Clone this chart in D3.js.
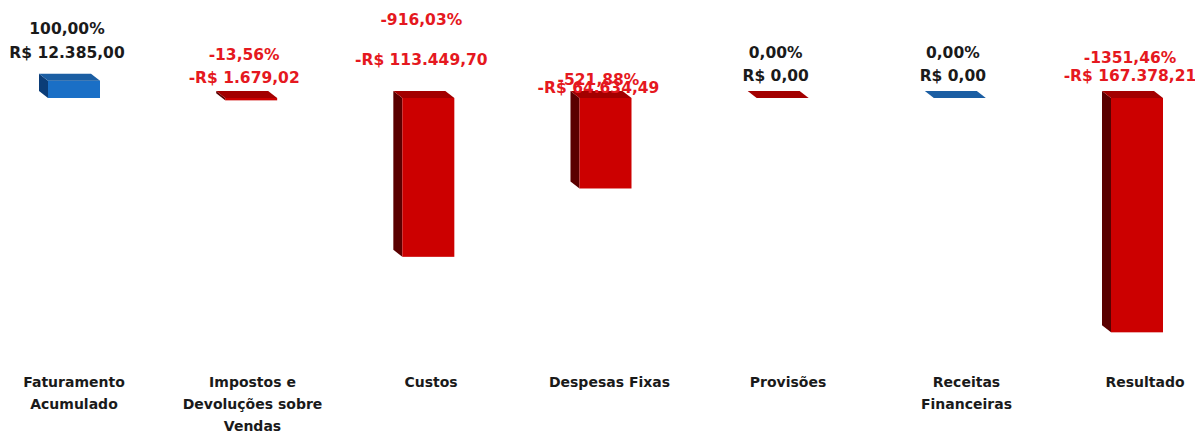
<!DOCTYPE html>
<html><head><meta charset="utf-8">
<script src="https://cdn.jsdelivr.net/npm/d3@7"></script>
<style>html,body{margin:0;padding:0;background:#fff;overflow:hidden}</style>
</head><body>
<svg id="chart" width="1195" height="433"></svg>
<script>
const categories = ["Faturamento Acumulado", "Impostos e Devoluções sobre Vendas", "Custos", "Despesas Fixas", "Provisões", "Receitas Financeiras", "Resultado"];
const categoryLines = [["Faturamento", "Acumulado"], ["Impostos e", "Devoluções sobre", "Vendas"], ["Custos"], ["Despesas Fixas"], ["Provisões"], ["Receitas", "Financeiras"], ["Resultado"]];
const values = [12385.00, -1679.02, -113449.70, -64634.49, 0, 0, -167378.21];
const percents = [100.00, -13.56, -916.03, -521.88, 0.00, 0.00, -1351.46];
const barKind = ["pos", "neg", "neg", "neg", "neg", "pos", "neg"];

// layout (label placement offsets relative to bar top, as in the original)
const labelOffsets = [[-45, -21], [-36, -13], [-71, -31], [-11, -3], [-38, -15], [-38, -15], [-33, -15]];

const svg = d3.select("#chart");
const x = d3.scalePoint().domain(categories).range([74, 1137]);
const xLab = d3.scalePoint().domain(categories).range([74, 1145]);
const y = d3.scaleLinear().domain([-170000, 15000]).range([336, 77]);

const W = 52, DX = 9, DY = 7;
const colors = {
  pos: {front: "#1a6fc6", side: "#0b3d78", top: "#1b5ea3"},
  neg: {front: "#cc0000", side: "#5a0000", top: "#a30000"}
};
const loc = d3.formatLocale({decimal: ",", thousands: ".", grouping: [3], currency: ["R$ ", ""], minus: "-"});
const fmtMoney = v => (v < 0 ? "-" : "") + "R$ " + loc.format(",.2f")(Math.abs(v));
const fmtPct = p => loc.format(".2f")(p) + "%";

const g = svg.append("g");
categories.forEach((c, i) => {
  const v = values[i];
  const cx = x(c);
  const x0 = cx - W / 2, x1 = cx + W / 2;
  const yt = Math.min(y(v), y(0)), yb = Math.max(y(v), y(0));
  const col = colors[barKind[i]];
  const bar = g.append("g");
  bar.append("path").attr("fill", col.side)
    .attr("d", `M${x0},${yt} L${x0 - DX},${yt - DY} L${x0 - DX},${yb - DY} L${x0},${yb} Z`);
  if (yb - yt > 0.01)
    bar.append("rect").attr("x", x0).attr("y", yt).attr("width", W).attr("height", yb - yt).attr("fill", col.front);
  bar.append("path").attr("fill", col.top)
    .attr("d", `M${x0},${yt} L${x0 - DX},${yt - DY} L${x1 - DX},${yt - DY} L${x1},${yt} Z`);

  const top = yt - DY;
  const color = v < 0 ? "#e51820" : "#1a1a1a";
  const lx = cx - 7;
  g.append("text").attr("x", lx).attr("y", top + labelOffsets[i][0]).attr("dy", "0.35em")
    .attr("text-anchor", "middle").attr("fill", color)
    .style("font", "bold 15.5px 'DejaVu Sans'").text(fmtPct(percents[i]));
  g.append("text").attr("x", lx).attr("y", top + labelOffsets[i][1]).attr("dy", "0.35em")
    .attr("text-anchor", "middle").attr("fill", color)
    .style("font", "bold 15.5px 'DejaVu Sans'").text(fmtMoney(v));

  const t = g.append("text").attr("text-anchor", "middle").attr("fill", "#1a1a1a")
    .style("font", "bold 14px 'DejaVu Sans'");
  categoryLines[i].forEach((ln, k) => {
    t.append("tspan").attr("x", xLab(c)).attr("y", 382 + k * 22).attr("dy", "0.35em").text(ln);
  });
});
</script>
</body></html>
